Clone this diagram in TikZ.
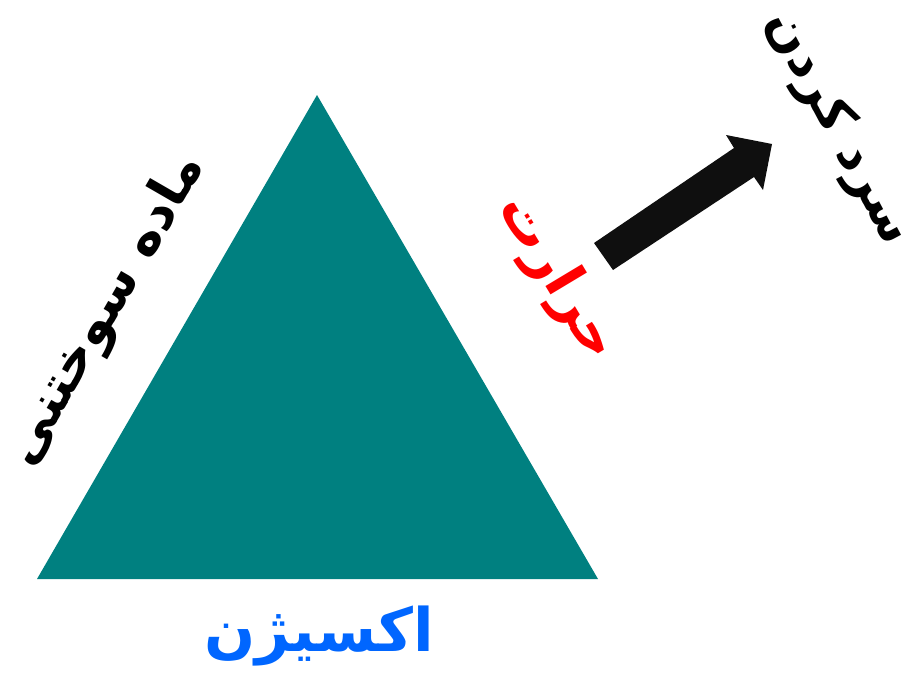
\documentclass[tikz,border=0pt]{standalone}
\usepackage{fontspec}
\newfontfamily\arabicfont[Script=Arabic]{DejaVu Sans}
\TeXXeTstate=1
\definecolor{tealfill}{RGB}{0,128,128}
\definecolor{oxblue}{RGB}{0,102,255}
\definecolor{heatred}{RGB}{255,0,0}
\definecolor{arrowblack}{RGB}{15,15,15}
\begin{document}
\begin{tikzpicture}[x=1pt,y=-1pt,
  lbl/.style={inner sep=0pt, font=\arabicfont\bfseries\fontsize{53}{60}\selectfont}]
\useasboundingbox (0,0) rectangle (917,680);
% triangle
\coordinate (top) at (317,95);
\coordinate (bl) at (37,579);
\coordinate (br) at (598,579);
\fill[tealfill] (top) -- (bl) -- (br) -- cycle;
% labels
\node[lbl, text=black, rotate=60] (fuel) at (106,310) {\beginR ماده سوختنی\endR};
\node[lbl, text=heatred, rotate=-59, font=\arabicfont\bfseries\fontsize{56}{60}\selectfont] (heat) at (557,278) {\beginR حرارت\endR};
\node[lbl, text=oxblue, font=\arabicfont\bfseries\fontsize{60}{66}\selectfont] (oxy) at (319,636) {\beginR اکسیژن\endR};
\node[lbl, text=black, rotate=-62, font=\arabicfont\bfseries\fontsize{51}{60}\selectfont] (cool) at (838,128) {\beginR سرد کردن\endR};
% arrow
\coordinate (t1) at (594,243);
\coordinate (t2) at (613,270);
\coordinate (s1) at (734,148);
\coordinate (s2) at (754,177);
\coordinate (b1) at (726,135);
\coordinate (b2) at (763,190);
\coordinate (tip) at (772,144);
\fill[arrowblack] (t1) -- (s1) -- (b1) -- (tip) -- (b2) -- (s2) -- (t2) -- cycle;
\end{tikzpicture}
\end{document}
